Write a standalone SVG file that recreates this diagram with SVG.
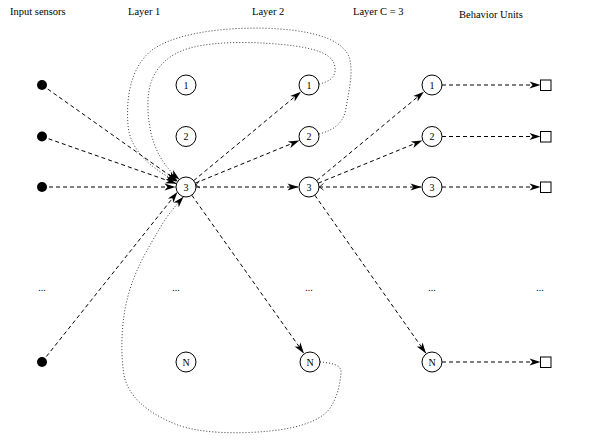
<svg xmlns="http://www.w3.org/2000/svg" width="610" height="440" viewBox="0 0 610 440">
<defs>
<marker id="ah" markerUnits="userSpaceOnUse" markerWidth="12" markerHeight="8" refX="11" refY="3.5" orient="auto" overflow="visible">
<path d="M0,0 L11,3.5 L0,7 L3,3.5 z" fill="#000" stroke="none"/>
</marker>
</defs>
<style>
text{font-family:"Liberation Serif","Times New Roman",serif;fill:#000}
.hd{font-size:10.5px}
.num{font-size:10px;text-anchor:middle}
.dots{font-size:10px;text-anchor:middle}
.node circle{fill:#fff;stroke:#000;stroke-width:1}
.dash{fill:none;stroke:#000;stroke-width:1;stroke-dasharray:4 3;marker-end:url(#ah)}
.dot{fill:none;stroke:#222;stroke-width:0.9;stroke-dasharray:1 2;marker-end:url(#ah)}
.sq{fill:#fff;stroke:#000;stroke-width:1}
.tick{fill:none;stroke:#000;stroke-width:0.8}
</style>
<rect width="610" height="440" fill="#fff"/>
<g id="headers">
<text class="hd" x="10" y="15">Input sensors</text>
<text class="hd" x="128" y="15">Layer 1</text>
<text class="hd" x="252" y="15">Layer 2</text>
<text class="hd" x="353" y="15">Layer C = 3</text>
<text class="hd" x="459" y="18">Behavior Units</text>
</g>
<g id="connectors">
<path class="dash" d="M42,85 L177.8,181.2"/>
<path class="dash" d="M42,136.5 L176.6,183.7"/>
<path class="dash" d="M42,187 L175.5,187"/>
<path class="dash" d="M42,362 L177.5,192"/>
<path class="dash" d="M193.7,180.6 L300.9,91.7"/>
<path class="dash" d="M195.2,183.2 L299.3,140.5"/>
<path class="dash" d="M196,187 L298.5,187"/>
<path class="dash" d="M191.8,195.2 L303.9,353.4"/>
<path class="dash" d="M316.7,180.6 L423.9,91.7"/>
<path class="dash" d="M318.2,183.2 L422.3,140.5"/>
<path class="dash" d="M319,187 L421.5,187"/>
<path class="dash" d="M314.8,195.2 L426,353.4"/>
<path class="dash" d="M442,85 L540.5,85"/>
<path class="dash" d="M442,136.5 L540.5,136.5"/>
<path class="dash" d="M442,187 L540.5,187"/>
<path class="dash" d="M442,362 L540.5,362"/>
<path class="dot" d="M319,84 C328,82 336,78 335,68 C334,56 322,50 295,46 C265,42 220,40 190,48 C162,56 149,75 148,100 C147,130 155,160 179.5,179.5"/>
<path class="dot" d="M319,134 C335,130 344,122 346,108 C349,90 353,75 350,60 C346,42 320,32 280,29 C240,26 180,30 152,50 C130,68 126,98 128,125 C130,150 150,168 177,181.5"/>
<path class="dot" d="M320,362 C330,363 342,364 341,373 C340,386 336,400 330,408 C322,420 300,428 270,431 C240,434 200,434 175,424 C146,412 128,396 124,375 C120,350 122,320 127,300 C134,270 150,245 160,228 C168,214 177,204 183.5,196.8"/>
<path class="tick" d="M199.5,180.5 L196,185 L200,188"/>
<path class="tick" d="M323.5,183.5 L319.5,187 L323.5,190"/>
</g>
<g id="inputs">
<circle cx="42" cy="85" r="5" fill="#000"/>
<circle cx="42" cy="136.5" r="5" fill="#000"/>
<circle cx="42" cy="187" r="5" fill="#000"/>
<circle cx="42" cy="362" r="5" fill="#000"/>
</g>
<g id="l1n1" class="node"><circle cx="186" cy="85" r="10"/><text class="num" x="186" y="88.5">1</text></g>
<g id="l1n2" class="node"><circle cx="186" cy="136.5" r="10"/><text class="num" x="186" y="140">2</text></g>
<g id="l1n3" class="node"><circle cx="186" cy="187" r="10"/><text class="num" x="186" y="190.5">3</text></g>
<g id="l1nN" class="node"><circle cx="186" cy="362" r="10"/><text class="num" x="186" y="365.5">N</text></g>
<g id="l2n1" class="node"><circle cx="309" cy="85" r="10"/><text class="num" x="309" y="88.5">1</text></g>
<g id="l2n2" class="node"><circle cx="309" cy="136.5" r="10"/><text class="num" x="309" y="140">2</text></g>
<g id="l2n3" class="node"><circle cx="309" cy="187" r="10"/><text class="num" x="309" y="190.5">3</text></g>
<g id="l2nN" class="node"><circle cx="310" cy="362" r="10"/><text class="num" x="310" y="365.5">N</text></g>
<g id="l3n1" class="node"><circle cx="432" cy="85" r="10"/><text class="num" x="432" y="88.5">1</text></g>
<g id="l3n2" class="node"><circle cx="432" cy="136.5" r="10"/><text class="num" x="432" y="140">2</text></g>
<g id="l3n3" class="node"><circle cx="432" cy="187" r="10"/><text class="num" x="432" y="190.5">3</text></g>
<g id="l3nN" class="node"><circle cx="432" cy="362" r="10"/><text class="num" x="432" y="365.5">N</text></g>
<g id="behavior">
<rect class="sq" x="540.5" y="80" width="10.5" height="10.5"/>
<rect class="sq" x="540.5" y="131.5" width="10.5" height="10.5"/>
<rect class="sq" x="540.5" y="182" width="10.5" height="10.5"/>
<rect class="sq" x="540.5" y="357" width="10.5" height="10.5"/>
</g>
<g id="ellipses">
<text class="dots" x="42" y="291">...</text>
<text class="dots" x="176" y="291">...</text>
<text class="dots" x="309" y="291">...</text>
<text class="dots" x="432" y="291">...</text>
<text class="dots" x="540" y="291">...</text>
</g>
</svg>
